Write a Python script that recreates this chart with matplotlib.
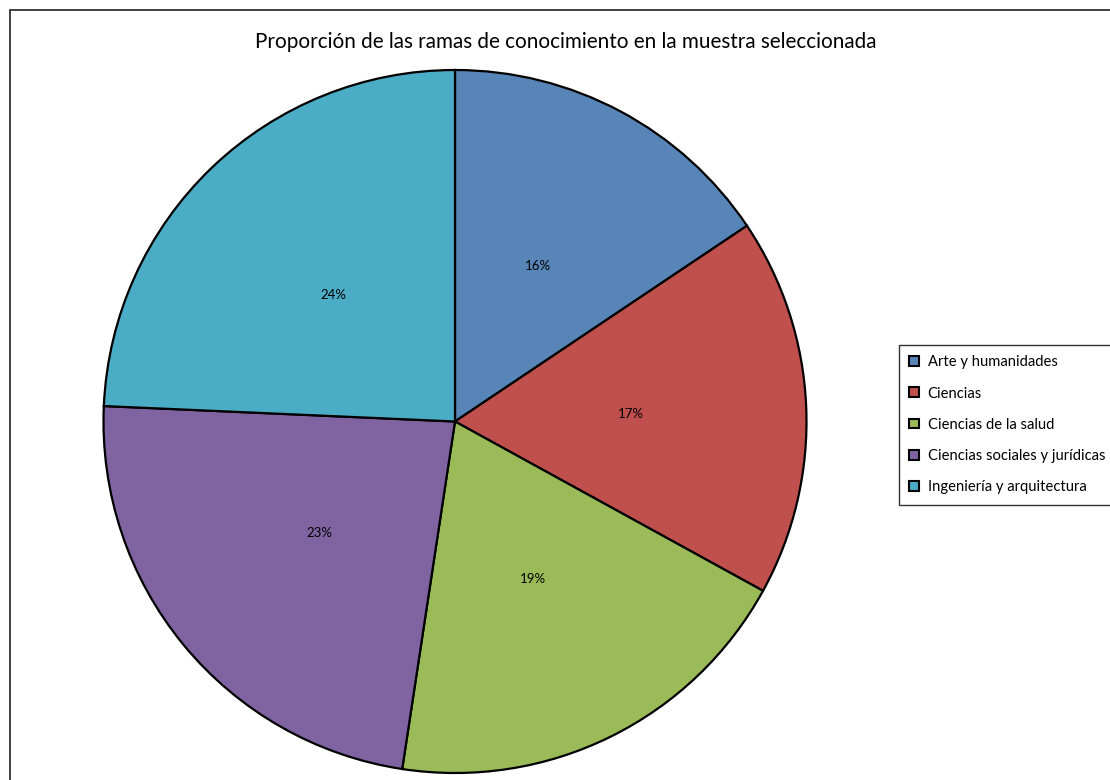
import matplotlib.pyplot as plt
from matplotlib.patches import Rectangle, Patch

# data
ramas = ['Arte y humanidades', 'Ciencias', 'Ciencias de la salud',
         'Ciencias sociales y jurídicas', 'Ingeniería y arquitectura']
porcentajes = [15.6, 17.4, 19.4, 23.3, 24.3]
colores = ['#5885B8', '#C0504D', '#9BBB59', '#8064A2', '#4BACC6']

plt.rcParams['font.family'] = ['Lato', 'DejaVu Sans']

fig = plt.figure(figsize=(11.1, 7.8), dpi=100)

# pie axes, centre ~(455, 421) px, radius ~352 px
W, H = 1110, 780
cx, cy, r = 455, 421.5, 351.5
ax = fig.add_axes([(cx - r) / W, (H - cy - r) / H, 2 * r / W, 2 * r / H])

wedges, texts, autotexts = ax.pie(
    porcentajes, colors=colores, startangle=90, counterclock=False,
    autopct='%.0f%%', pctdistance=0.5,
    wedgeprops=dict(edgecolor='black', linewidth=1.6))
for t in autotexts:
    t.set_fontsize(9.5)
    t.set_color('black')
ax.set_aspect('equal')
ax.set_xlim(-1, 1)
ax.set_ylim(-1, 1)

fig.text(566 / W, 1 - 42 / H, 'Proporción de las ramas de conocimiento en la muestra seleccionada',
         ha='center', va='center', fontsize=14.9)

# outer chart frame (cut off on right and bottom)
fig.patches.append(Rectangle((10 / W, -0.1), 2, (H - 10) / H + 0.1,
                             transform=fig.transFigure, fill=False,
                             edgecolor='#333333', linewidth=1.3, clip_on=False))

handles = [Patch(facecolor=c, edgecolor='black', linewidth=1.5) for c in colores]
leg = fig.legend(handles, ramas, loc='upper left',
                 bbox_to_anchor=(899 / W, 1 - 345 / H), bbox_transform=fig.transFigure,
                 fontsize=10.6, frameon=True, fancybox=False, borderpad=0.7,
                 labelspacing=1.17, handlelength=0.65, handleheight=0.65,
                 handletextpad=0.6, borderaxespad=0)
leg.get_frame().set_edgecolor('black')
leg.get_frame().set_linewidth(1.0)

fig.savefig('out.png', dpi=100)
